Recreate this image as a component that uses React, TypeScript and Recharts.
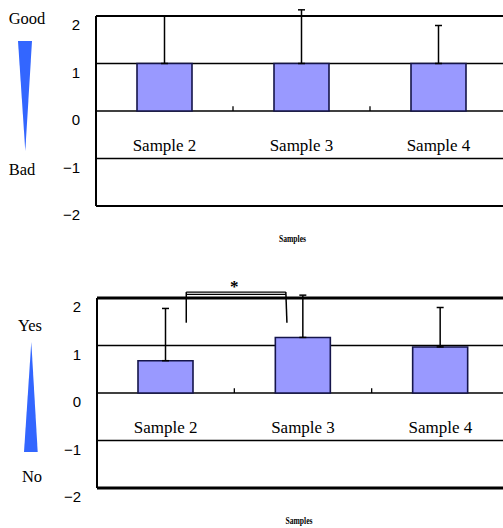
import React from 'react';
import {
  BarChart,
  Bar,
  XAxis,
  YAxis,
  CartesianGrid,
  ErrorBar,
  ReferenceLine,
  ReferenceDot,
} from 'recharts';

// Category names shared by both panels
const categories = ['Sample 2', 'Sample 3', 'Sample 4'];

// Upper panel: rating (Good ↔ Bad)
const ratingMeans = [1, 1, 1];
const ratingErrors = [1.0, 1.13, 0.8];

// Lower panel: response (Yes ↔ No)
const responseMeans = [0.68, 1.17, 0.97];
const responseErrors = [1.1, 0.89, 0.83];

// Value-axis ticks
const yTicks = [-2, -1, 0, 1, 2];

// Boundaries between category bands, in band units
const bandBoundaries = [1, 2];

// Significance bracket between Sample 2 and Sample 3 (lower panel), in band units
const bracketX = [0.65, 1.375];
const bracketTop = [2.125, 2.075];
const bracketFoot = 1.48;
const starPos = { x: 1.0, y: 2.31 };

const SERIF = '"Liberation Serif", "Times New Roman", serif';
const SANS = '"Liberation Sans", Arial, sans-serif';

const PLOT_H = 190;
const bandCenters = categories.map((_, i) => i + 0.5);

const minus = (v: number) => (v < 0 ? `\u2212${Math.abs(v)}` : `${v}`);

const YTick = (props: any) => {
  const { x, y, payload } = props;
  return (
    <text x={x} y={y + 14} textAnchor="end" fontFamily={SANS} fontSize={15} fill="#000">
      {minus(payload.value)}
    </text>
  );
};

// Category names sit inside the plot, just under the zero line
const CategoryTick = (props: any) => {
  const { x, y, payload } = props;
  const name = categories[Math.floor(payload.value)];
  return (
    <text x={x} y={y - PLOT_H / 2 + 40} textAnchor="middle" fontFamily={SERIF} fontSize={17} fill="#000">
      {name}
    </text>
  );
};

const AxisTitle = (dx: number) => (props: any) => {
  const vb = props.viewBox || {};
  return (
    <text
      x={vb.x + vb.width / 2 + dx}
      y={vb.y + 36}
      textAnchor="middle"
      fontFamily={SERIF}
      fontWeight="bold"
      fontSize={11}
      textLength={27}
      lengthAdjust="spacingAndGlyphs"
      fill="#000"
    >
      Samples
    </text>
  );
};

type PanelProps = {
  means: number[];
  errors: number[];
  marginTop: number;
  marginLeft: number;
  marginRight: number;
  marginBottom: number;
  borderWidth: number;
  titleDx: number;
  withBracket?: boolean;
};

const Panel = ({
  means,
  errors,
  marginTop,
  marginLeft,
  marginRight,
  marginBottom,
  borderWidth,
  titleDx,
  withBracket,
}: PanelProps) => {
  const data = categories.map((name, i) => ({
    name,
    pos: bandCenters[i],
    mean: means[i],
    err: [0, errors[i]],
  }));
  return (
    <BarChart
      width={530}
      height={264}
      data={data}
      margin={{ top: marginTop, left: marginLeft, right: marginRight, bottom: marginBottom }}
      barSize={55}
    >
      <CartesianGrid vertical={false} stroke="#000" strokeWidth={1.3} />
      <XAxis
        dataKey="pos"
        type="number"
        domain={[0, 3]}
        allowDataOverflow
        ticks={bandCenters}
        interval={0}
        tick={<CategoryTick />}
        tickLine={false}
        tickSize={0}
        tickMargin={0}
        height={40}
        axisLine={{ stroke: '#000', strokeWidth: borderWidth }}
        label={AxisTitle(titleDx)}
      />
      <YAxis
        type="number"
        domain={[-2, 2]}
        allowDataOverflow
        ticks={yTicks}
        interval={0}
        width={60}
        tick={<YTick />}
        tickLine={false}
        tickSize={0}
        tickMargin={16}
        axisLine={{ stroke: '#000', strokeWidth: 2 }}
      />
      <ReferenceLine y={2} stroke="#000" strokeWidth={borderWidth} />
      {bandBoundaries.map((b) => (
        <ReferenceLine
          key={b}
          segment={[
            { x: b, y: 0 },
            { x: b, y: 0.1 },
          ]}
          stroke="#000"
          strokeWidth={1.3}
          ifOverflow="visible"
        />
      ))}
      <Bar dataKey="mean" fill="#9999ff" stroke="#15154a" strokeWidth={1.6} isAnimationActive={false}>
        <ErrorBar dataKey="err" width={3.5} stroke="#000" strokeWidth={1.5} direction="y" />
      </Bar>
      {withBracket &&
        bracketTop.map((t) => (
          <ReferenceLine
            key={t}
            segment={[
              { x: bracketX[0], y: t },
              { x: bracketX[1], y: t },
            ]}
            stroke="#000"
            strokeWidth={1.2}
            ifOverflow="visible"
          />
        ))}
      {withBracket && (
        <ReferenceLine
          segment={[
            { x: bracketX[0], y: bracketTop[0] },
            { x: bracketX[0], y: bracketFoot },
          ]}
          stroke="#000"
          strokeWidth={1.5}
          ifOverflow="visible"
        />
      )}
      {withBracket && (
        <ReferenceLine
          segment={[
            { x: bracketX[1], y: bracketTop[0] },
            { x: bracketX[1] + 0.008, y: bracketFoot },
          ]}
          stroke="#000"
          strokeWidth={1.5}
          ifOverflow="visible"
        />
      )}
      {withBracket && (
        <ReferenceDot
          x={starPos.x}
          y={starPos.y}
          r={0}
          ifOverflow="visible"
          shape={(p: any) => (
            <text x={p.cx} y={p.cy + 9} textAnchor="middle" fontFamily={SERIF} fontWeight="bold" fontSize={17} fill="#000">
              *
            </text>
          )}
        />
      )}
    </BarChart>
  );
};

// Scale indicators drawn to the left of each panel
const Indicators = () => (
  <svg width={90} height={528} style={{ position: 'absolute', left: 0, top: 0 }}>
    <text x={27} y={24} textAnchor="middle" fontFamily={SERIF} fontSize={16.5} fill="#000">Good</text>
    <polygon points="18,41 32,41 25.3,151" fill="#3366ff" />
    <text x={22} y={175} textAnchor="middle" fontFamily={SERIF} fontSize={16.5} fill="#000">Bad</text>
    <text x={30} y={331} textAnchor="middle" fontFamily={SERIF} fontSize={16.5} fill="#000">Yes</text>
    <polygon points="31.3,342 24,452 37.7,452" fill="#3366ff" />
    <text x={32} y={482} textAnchor="middle" fontFamily={SERIF} fontSize={16.5} fill="#000">No</text>
  </svg>
);

export default function App() {
  return (
    <div
      style={{
        position: 'fixed',
        left: 0,
        top: 0,
        width: 503,
        height: 528,
        overflow: 'hidden',
        background: '#fff',
      }}
    >
      <div style={{ position: 'absolute', left: 0, top: 0 }}>
        <Panel
          means={ratingMeans}
          errors={ratingErrors}
          marginTop={16}
          marginLeft={36}
          marginRight={23}
          marginBottom={18}
          borderWidth={2}
          titleDx={-9}
        />
      </div>
      <div style={{ position: 'absolute', left: 0, top: 264 }}>
        <Panel
          means={responseMeans}
          errors={responseErrors}
          marginTop={34}
          marginLeft={37}
          marginRight={21}
          marginBottom={0}
          borderWidth={3}
          titleDx={-4}
          withBracket
        />
      </div>
      <Indicators />
    </div>
  );
}
